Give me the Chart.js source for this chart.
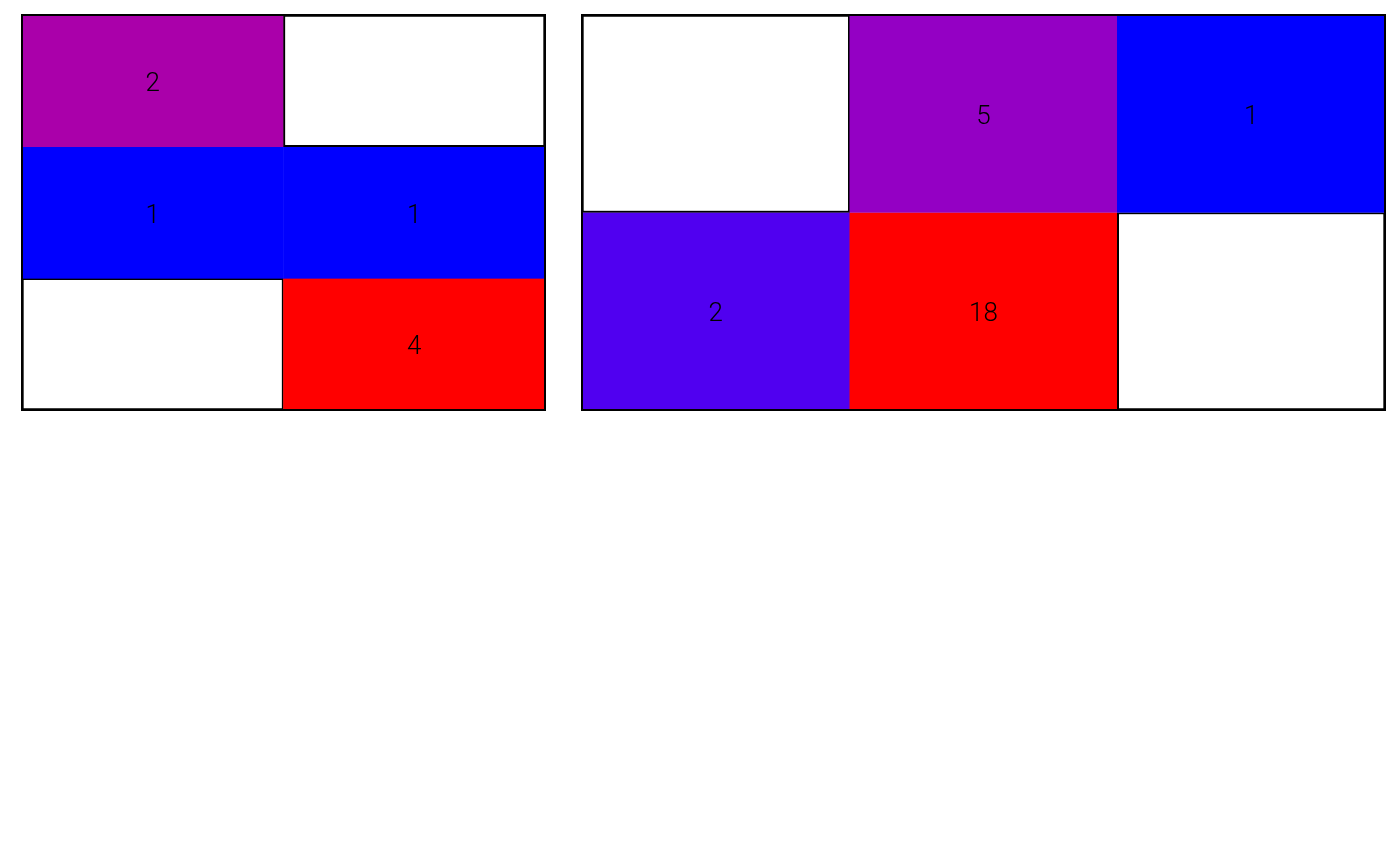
<!DOCTYPE html>
<html>
<head>
<meta charset="utf-8">
<script src="https://cdn.jsdelivr.net/npm/chart.js@4.4.0/dist/chart.umd.min.js"></script>
<style>
  html, body { margin: 0; padding: 0; background: #ffffff; width: 1400px; height: 865px; overflow: hidden; }
  canvas { position: absolute; }
</style>
</head>
<body>
<canvas id="left" width="527" height="399" style="left:20px;top:13px;width:527px;height:399px"></canvas>
<canvas id="right" width="807" height="399" style="left:580px;top:13px;width:807px;height:399px"></canvas>
<script>
// ---- data ----
const leftColumns = ['A', 'B'];
const leftRows = ['1', '2', '3'];
const leftValues = [
  [2, null],
  [1, 1],
  [null, 4]
];
const leftColors = [
  ['#AA00AA', null],
  ['#0000FF', '#0000FF'],
  [null, '#FF0000']
];

const rightColumns = ['A', 'B', 'C'];
const rightRows = ['1', '2'];
const rightValues = [
  [null, 5, 1],
  [2, 18, null]
];
const rightColors = [
  [null, '#9400C4', '#0000FF'],
  ['#5000F0', '#FF0000', null]
];

// ---- plugins ----
const cellText = {
  id: 'cellText',
  afterDatasetsDraw(chart) {
    const ctx = chart.ctx;
    const vals = chart.options.plugins.cellText.values;
    ctx.save();
    ctx.fillStyle = '#000000';
    ctx.font = '300 26px Roboto';
    ctx.textAlign = 'center';
    ctx.textBaseline = 'middle';
    chart.data.datasets.forEach((ds, i) => {
      const meta = chart.getDatasetMeta(i);
      meta.data.forEach((el, j) => {
        const v = vals[i][j];
        if (v === null || v === undefined) return;
        const p = el.getCenterPoint();
        ctx.fillText(String(v), p.x, p.y + 3.5);
      });
    });
    ctx.restore();
  }
};
const frame = {
  id: 'frame',
  afterDraw(chart) {
    const a = chart.chartArea;
    const ctx = chart.ctx;
    ctx.save();
    ctx.strokeStyle = '#000000';
    ctx.lineWidth = 2;
    ctx.strokeRect(a.left, a.top, a.right - a.left, a.bottom - a.top);
    ctx.restore();
  }
};

function makeHeat(id, cols, rows, values, colors) {
  const datasets = rows.map((r, i) => ({
    label: r,
    data: cols.map(() => [i, i + 1]),
    backgroundColor: cols.map((c, j) => colors[i][j] || '#FFFFFF'),
    borderColor: cols.map((c, j) => colors[i][j] || '#000000'),
    borderWidth: cols.map((c, j) => colors[i][j] ? 0.5 : 2),
    borderSkipped: false,
    barPercentage: 1,
    categoryPercentage: 1,
    grouped: false
  }));
  return new Chart(document.getElementById(id), {
    type: 'bar',
    data: { labels: cols, datasets },
    options: {
      responsive: false,
      animation: false,
      layout: { padding: 2 },
      plugins: {
        legend: { display: false },
        tooltip: { enabled: false },
        cellText: { values }
      },
      scales: {
        x: { display: false, offset: true },
        y: { display: false, type: 'linear', min: 0, max: rows.length, reverse: true }
      }
    },
    plugins: [cellText, frame]
  });
}

makeHeat('left', leftColumns, leftRows, leftValues, leftColors);
makeHeat('right', rightColumns, rightRows, rightValues, rightColors);
</script>
</body>
</html>
